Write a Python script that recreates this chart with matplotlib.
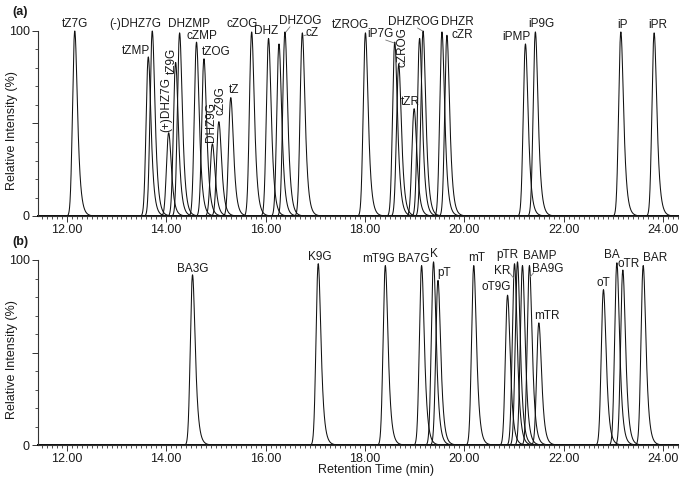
import math
import numpy as np
import matplotlib
matplotlib.use("Agg")
import matplotlib.pyplot as plt
from matplotlib.ticker import MultipleLocator, FixedLocator

plt.rcParams['font.family'] = ['Liberation Sans', 'DejaVu Sans']

# ---------------- data ----------------
names_a = ['tZ7G', 'tZMP', '(-)DHZ7G', '(+)DHZ7G', 'tZ9G', 'DHZMP', 'cZMP', 'tZOG',
           'DHZ9G', 'cZ9G', 'tZ', 'cZOG', 'DHZ', '', 'DHZOG', 'cZ', 'tZROG', 'iP7G',
           'cZROG', 'tZR', '', 'DHZROG', 'DHZR', 'cZR', 'iPMP', 'iP9G', 'iP', 'iPR']
times_a = [12.16, 13.64, 13.72, 14.05, 14.19, 14.27, 14.61, 14.76, 14.93, 15.06, 15.30,
           15.72, 16.06, 16.27, 16.39, 16.74, 18.01, 18.60, 18.68, 18.99, 19.10, 19.17,
           19.55, 19.65, 21.23, 21.43, 23.15, 23.82]
heights_a = [100, 86, 100, 45, 83, 99, 94, 85, 39, 51, 64, 99.5, 96, 93, 99.5, 99, 99,
             94, 82, 58, 96, 100, 99.5, 97.7, 93, 99.5, 99.5, 99]

names_b = ['BA3G', 'K9G', 'mT9G', 'BA7G', 'K', 'pT', 'mT', 'oT9G', 'KR', 'pTR', 'BAMP',
           'BA9G', 'mTR', 'oT', 'BA', 'oTR', 'BAR']
times_b = [14.53, 17.06, 18.41, 19.14, 19.38, 19.47, 20.19, 20.87, 21.01, 21.07, 21.17,
           21.31, 21.50, 22.80, 23.07, 23.19, 23.60]
heights_b = [92, 98, 97, 97, 99, 89, 97, 81, 98, 99, 97, 97, 66, 84, 98.5, 94.6, 97]

x_ticks = [12.0, 14.0, 16.0, 18.0, 20.0, 22.0, 24.0]

# label layout (center x, center y, rotation)
lab_a = {
    'tZ7G': (12.16, 103.8, 0), '(-)DHZ7G': (13.37, 103.8, 0), 'tZMP': (13.39, 89.2, 0),
    'DHZMP': (14.45, 103.8, 0), 'cZMP': (14.72, 97.3, 0), 'tZOG': (15.00, 88.6, 0),
    'tZ9G': (14.11, 83.8, 90), '(+)DHZ7G': (14.01, 60.0, 90), 'DHZ9G': (14.90, 50.8, 90),
    'cZ9G': (15.10, 62.2, 90), 'tZ': (15.36, 68.1, 0), 'cZOG': (15.52, 103.8, 0),
    'DHZ': (16.02, 100.0, 0), 'DHZOG': (16.69, 105.4, 0), 'cZ': (16.93, 98.9, 0),
    'tZROG': (17.71, 103.2, 0), 'iP7G': (18.32, 98.4, 0), 'cZROG': (18.76, 91.4, 90),
    'DHZROG': (18.98, 104.9, 0), 'tZR': (18.92, 61.6, 0), 'DHZR': (19.85, 105.0, 0),
    'cZR': (19.95, 97.6, 0), 'iPMP': (21.05, 96.8, 0), 'iP9G': (21.56, 103.8, 0),
    'iP': (23.19, 103.2, 0), 'iPR': (23.89, 103.2, 0)}
lab_b = {
    'BA3G': (14.54, 95.1, 0), 'K9G': (17.09, 101.6, 0), 'mT9G': (18.28, 100.5, 0),
    'BA7G': (18.98, 100.5, 0), 'K': (19.38, 103.2, 0), 'pT': (19.59, 93.0, 0),
    'mT': (20.25, 101.1, 0), 'pTR': (20.87, 102.7, 0), 'BAMP': (21.52, 102.2, 0),
    'KR': (20.77, 94.1, 0), 'BA9G': (21.68, 95.1, 0), 'oT9G': (20.65, 85.4, 0),
    'mTR': (21.66, 69.7, 0), 'oT': (22.80, 87.6, 0), 'BA': (22.97, 102.7, 0),
    'oTR': (23.31, 97.8, 0), 'BAR': (23.83, 101.1, 0)}
leaders_a = [((18.42, 95.1), (18.59, 93.5)), ((19.06, 101.6), (19.16, 100.0)),
             ((16.49, 102.2), (16.41, 99.5)), ((16.85, 98.0), (16.77, 97.5))]
leaders_b = [((20.91, 93.0), (20.99, 90.3)), ((21.39, 93.0), (21.33, 91.0))]

SIG = 0.037
TAU = 0.05


def emg_shape(t, t0, h):
    y = np.zeros_like(t)
    m = (t > t0 - 0.6) & (t < t0 + 1.5)
    x = t[m]
    lam = 1.0 / TAU
    arg = (SIG * lam - (x) / SIG) / math.sqrt(2)
    erfc = np.array([math.erfc(a) for a in arg])
    v = np.exp(0.5 * (SIG * lam) ** 2 - lam * x) * erfc
    y[m] = v
    return y


t = np.linspace(11.42, 24.3, 6000)
tt = np.linspace(-0.5, 1.0, 20001)
ref = emg_shape(tt, 0.0, 1.0)
imax = np.argmax(ref)
shift = tt[imax]
norm = ref[imax]


def peak(t0, h):
    return h * emg_shape(t - (t0 - shift), 0.0, 1.0) / norm


fig = plt.figure(figsize=(6.85, 4.8), dpi=100)
ax_a = fig.add_axes([38 / 685, 1 - 216 / 480, 640 / 685, 185 / 480])
ax_b = fig.add_axes([38 / 685, 1 - 445 / 480, 640 / 685, 185 / 480])

txtc = '#1a1a1a'

for ax, names, times, heights, labs, leaders in (
        (ax_a, names_a, times_a, heights_a, lab_a, leaders_a),
        (ax_b, names_b, times_b, heights_b, lab_b, leaders_b)):
    for nm, t0, h in zip(names, times, heights):
        ax.plot(t, peak(t0, h), color='#111111', lw=0.75, clip_on=False)
    for nm, (lx, ly, rot) in labs.items():
        ax.text(lx, ly, nm, ha='center', va='center', rotation=rot, fontsize=8.5,
                color=txtc, clip_on=False)
    for p0, p1 in leaders:
        ax.plot([p0[0], p1[0]], [p0[1], p1[1]], color='#777777', lw=0.6, clip_on=False)
    ax.set_xlim(11.42, 24.3)
    ax.set_ylim(0, 100)
    for s in ('top', 'right'):
        ax.spines[s].set_visible(False)
    for s in ('left', 'bottom'):
        ax.spines[s].set_linewidth(0.8)
        ax.spines[s].set_color('#333333')
    ax.xaxis.set_major_locator(FixedLocator(x_ticks))
    ax.set_xticklabels(['%.2f' % v for v in x_ticks])
    ax.xaxis.set_minor_locator(MultipleLocator(0.1))
    ax.yaxis.set_major_locator(FixedLocator([0, 50, 100]))
    ax.set_yticklabels(['0', '', '100'])
    ax.yaxis.set_minor_locator(MultipleLocator(10))
    ax.tick_params(which='major', length=4, width=0.7, color='#333333', labelsize=9,
                   labelcolor=txtc, pad=2)
    ax.tick_params(which='minor', length=2, width=0.6, color='#333333')
    ax.set_ylabel('Relative Intensity (%)', fontsize=9, color=txtc)
    ax.yaxis.set_label_coords(-0.031, 0.46)

fig.text(376 / 685, 1 - 470 / 480, 'Retention Time (min)', ha='center', va='center',
         fontsize=9, color=txtc)
fig.text(12 / 685, 1 - 12 / 480, '(a)', ha='left', va='center', fontsize=9,
         fontweight='bold', color=txtc)
fig.text(12 / 685, 1 - 242 / 480, '(b)', ha='left', va='center', fontsize=9,
         fontweight='bold', color=txtc)

fig.savefig('out.png', dpi=100)
